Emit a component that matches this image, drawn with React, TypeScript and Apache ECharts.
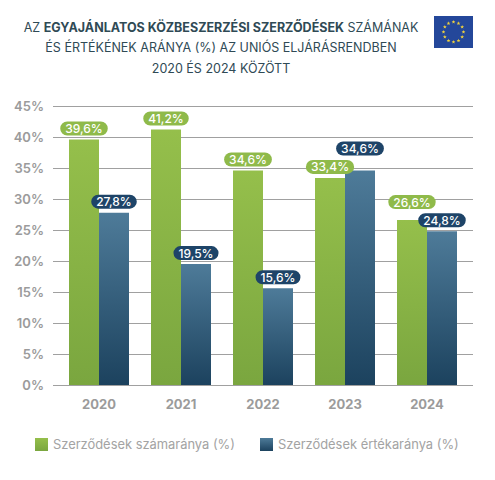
import React, { useEffect, useRef } from "react";
import * as echarts from "echarts";

const categories = ["2020", "2021", "2022", "2023", "2024"];
const countShare = [39.6, 41.2, 34.6, 33.4, 26.6];
const valueShare = [27.8, 19.5, 15.6, 34.6, 24.8];
const seriesNames = ["Szerződések számaránya (%)", "Szerződések értékaránya (%)"];
// extra label lift where the two labels of a year would collide
const countLabelLift = [0, 0, 0, 0, 7];
const valueLabelLift = [0, 0, 0, 11, 0];

const FONT = "Inter, 'Noto Sans', sans-serif";

function starPoints(cx: number, cy: number, r: number): number[][] {
  const pts: number[][] = [];
  for (let i = 0; i < 10; i++) {
    const rr = i % 2 === 0 ? r : r * 0.42;
    const a = -Math.PI / 2 + (i * Math.PI) / 5;
    pts.push([cx + rr * Math.cos(a), cy + rr * Math.sin(a)]);
  }
  return pts;
}

export default function App() {
  const ref = useRef<HTMLDivElement>(null);
  useEffect(() => {
    document.body.style.margin = "0";
    const chart = echarts.init(ref.current!, null, { renderer: "svg" });
    const fmt = (p: any) => p.value.toFixed(1).replace(".", ",") + "%";
    const flagX = 434, flagY = 16, flagW = 39, flagH = 32;
    const fcx = flagX + flagW / 2, fcy = flagY + flagH / 2;
    const stars: any[] = [];
    for (let i = 0; i < 12; i++) {
      const a = (i * Math.PI * 2) / 12;
      stars.push({
        type: "polygon",
        shape: { points: starPoints(fcx + 10 * Math.cos(a), fcy + 10 * Math.sin(a), 2) },
        style: { fill: "#f2d33c" },
      });
    }
    const greenGrad = new echarts.graphic.LinearGradient(0, 0, 0, 1, [
      { offset: 0, color: "#95bf4b" },
      { offset: 1, color: "#7aa63f" },
    ]);
    const blueGrad = new echarts.graphic.LinearGradient(0, 0, 0, 1, [
      { offset: 0, color: "#4e7b99" },
      { offset: 1, color: "#1c425e" },
    ]);
    const baseLabel = {
      show: true,
      position: "top",
      distance: 4,
      formatter: fmt,
      color: "#ffffff",
      fontFamily: FONT,
      fontSize: 12,
      fontWeight: 500,
      borderRadius: 8,
      padding: [1, 5, 1, 5],
      lineHeight: 12,
    };
    const withLift = (vals: number[], lifts: number[]) =>
      vals.map((v, i) => (lifts[i] ? { value: v, label: { distance: 4 + lifts[i] } } : v));
    chart.setOption({
      animation: false,
      textStyle: { fontFamily: FONT },
      title: {
        left: 216,
        top: 12,
        textAlign: "center",
        text:
          "AZ {b|EGYAJÁNLATOS KÖZBESZERZÉSI SZERZŐDÉSEK} SZÁMÁNAK\nÉS ÉRTÉKÉNEK ARÁNYA (%) AZ UNIÓS ELJÁRÁSRENDBEN\n2020 ÉS 2024 KÖZÖTT",
        textStyle: {
          fontFamily: FONT,
          fontSize: 12.5,
          fontWeight: 400,
          color: "#2f4a55",
          lineHeight: 20.5,
          rich: {
            b: { fontFamily: FONT, fontSize: 12.5, fontWeight: 700, color: "#2f4a55", lineHeight: 20.5 },
          },
        },
      },
      graphic: [
        { type: "rect", shape: { x: flagX, y: flagY, width: flagW, height: flagH }, style: { fill: "#24479a" } },
        ...stars,
      ],
      legend: {
        left: 30,
        top: 433,
        itemWidth: 13,
        itemHeight: 13,
        itemGap: 25,
        itemStyle: { borderWidth: 0 },
        icon: "rect",
        data: seriesNames,
        textStyle: { fontFamily: FONT, fontSize: 12.9, color: "#a3a3a3" },
      },
      grid: [
        { left: 53, right: 22, top: 106, bottom: 95 },
        { left: 58, right: 27, top: 106, bottom: 95 },
      ],
      xAxis: [
        { type: "value", gridIndex: 0, show: false, min: 0, max: 1 },
        {
          type: "category",
          gridIndex: 1,
          data: categories,
          axisLine: { show: false },
          axisTick: { show: false },
          axisLabel: { margin: 12, fontFamily: FONT, fontSize: 13, fontWeight: 700, color: "#9b9b9b" },
        },
      ],
      yAxis: [
        {
          type: "value",
          gridIndex: 0,
          min: 0,
          max: 45,
          interval: 5,
          axisLine: { show: false },
          axisTick: { show: false },
          splitLine: { lineStyle: { color: "#a0a0a0", width: 1 } },
          axisLabel: {
            margin: 9,
            fontFamily: FONT,
            fontSize: 13,
            fontWeight: 600,
            color: "#9b9b9b",
            formatter: (v: number) => v + "%",
          },
        },
        { type: "value", gridIndex: 1, min: 0, max: 45, interval: 5, show: false, splitLine: { show: false } },
      ],
      series: [
        {
          name: seriesNames[0],
          type: "bar",
          xAxisIndex: 1,
          yAxisIndex: 1,
          data: withLift(countShare, countLabelLift),
          barWidth: 30,
          barGap: "0%",
          itemStyle: { color: greenGrad },
          label: { ...baseLabel, backgroundColor: "#8fba4a" },
        },
        {
          name: seriesNames[1],
          type: "bar",
          xAxisIndex: 1,
          yAxisIndex: 1,
          data: withLift(valueShare, valueLabelLift),
          barWidth: 30,
          barGap: "0%",
          itemStyle: { color: blueGrad },
          label: { ...baseLabel, backgroundColor: "#1e4468" },
        },
      ],
    });
    return () => chart.dispose();
  }, []);
  return <div ref={ref} style={{ width: 495, height: 480 }} />;
}
